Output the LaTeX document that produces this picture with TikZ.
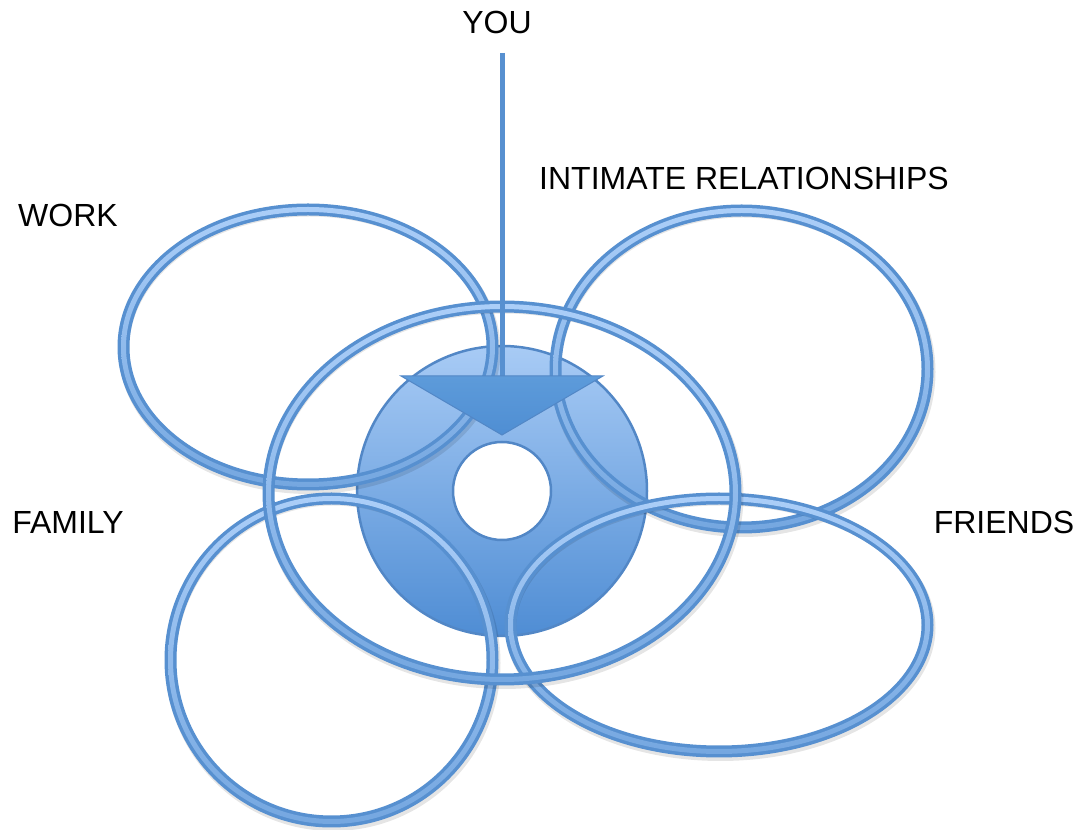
\documentclass[tikz,border=0pt]{standalone}
\usepackage{fontspec}
\setmainfont{Liberation Sans}
\usetikzlibrary{positioning}
\definecolor{ringedge}{HTML}{5790D0}
\definecolor{ringtop}{HTML}{ABCEF8}
\definecolor{ringbot}{HTML}{75A7E0}
\definecolor{disctop}{HTML}{A8CBF5}
\definecolor{discbot}{HTML}{4F8DD4}
\definecolor{discedge}{HTML}{5287C6}
\definecolor{pointtop}{HTML}{5D9BDA}
\definecolor{pointbot}{HTML}{4F8ED3}
\tikzset{
  lbl/.style={font=\fontsize{32}{37}\selectfont,inner sep=0pt},
  shadowband/.style={fill=black,opacity=0.10,even odd rule},
  edgeband/.style={fill=ringedge,even odd rule},
  lightband/.style={top color=ringtop,bottom color=ringbot,even odd rule},
  disc/.style={top color=disctop,bottom color=discbot,even odd rule},
  discline/.style={draw=discedge,line width=2.5},
  pointer/.style={top color=pointtop,bottom color=pointbot,draw=discedge,line width=1},
  stem/.style={ringedge,line width=5},
}
\newcommand{\ring}[4]{%
  \fill[shadowband] (#1+1.5,#2-3) ellipse [x radius=#3+6.5,y radius=#4+6.5] (#1+1.5,#2-3) ellipse [x radius=#3-4,y radius=#4-4];
  \fill[edgeband] (#1,#2) ellipse [x radius=#3+6,y radius=#4+6] (#1,#2) ellipse [x radius=#3-6,y radius=#4-6];
  \shade[lightband] (#1,#2) ellipse [x radius=#3+2.5,y radius=#4+2.5] (#1,#2) ellipse [x radius=#3-2.5,y radius=#4-2.5];
}

\begin{document}
\begin{tikzpicture}[x=1pt,y=1pt]
\useasboundingbox (0,0) rectangle (1080,830);
\node[lbl] (you) at (497,808) {YOU};
\node[lbl] (work) at (68,615) {WORK};
\node[lbl] (intimate) at (744,652) {INTIMATE RELATIONSHIPS};
\node[lbl] (family) at (68,308) {FAMILY};
\node[lbl] (friends) at (1004,308) {FRIENDS};
\shade[disc] (502,339) circle [radius=145] (502,339) circle [radius=49];
\draw[discline] (502,339) circle [radius=145] (502,339) circle [radius=49];
\ring{308}{483}{184.5}{137.5}
\ring{741.5}{461}{186}{158.5}
\ring{331.5}{170}{161}{161.5}
\ring{719}{205}{208.5}{126.5}
\ring{502}{337}{233.5}{186.5}
\coordinate (youtop) at (502,777);
\coordinate (tbase) at (502,454);
\coordinate (tl) at (401,454);
\coordinate (tr) at (603,454);
\coordinate (tip) at (502,395);
\draw[stem] (youtop) -- (tbase);
\shade[pointer] (tl) -- (tr) -- (tip) -- cycle;
\end{tikzpicture}
\end{document}
